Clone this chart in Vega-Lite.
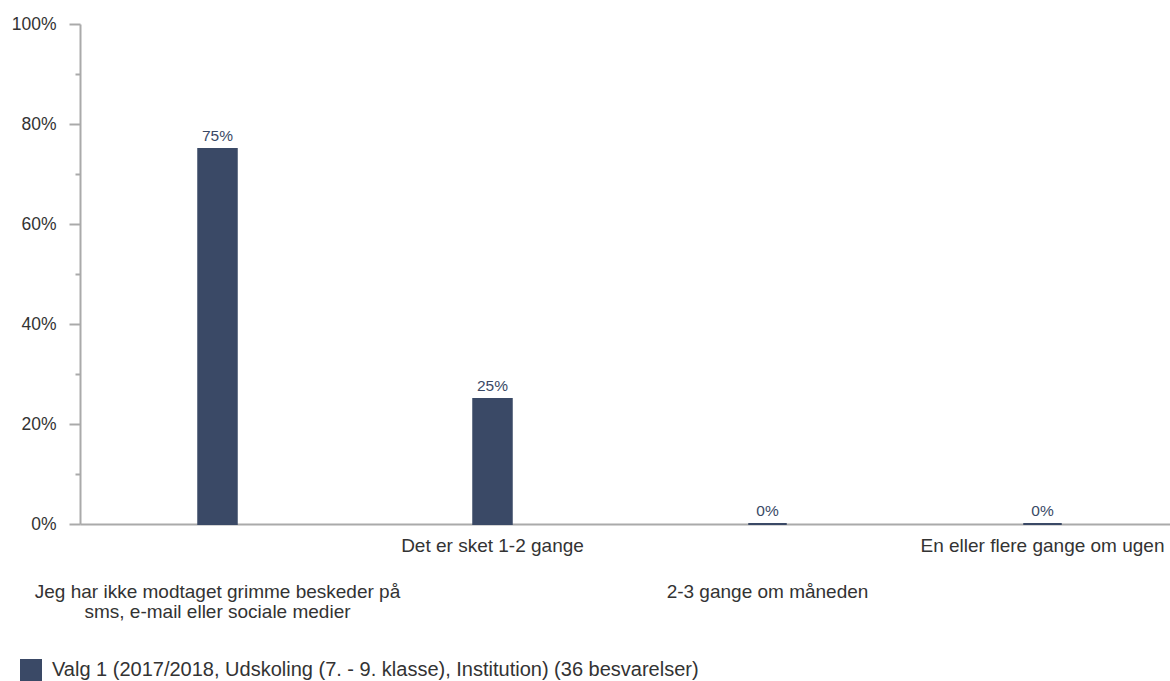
{
  "$schema": "https://vega.github.io/schema/vega-lite/v6.json",
  "autosize": "none",
  "width": 1090,
  "height": 500,
  "padding": {"left": 80, "top": 24, "right": 0, "bottom": 157},
  "background": "white",
  "config": {
    "view": {"stroke": null},
    "font": "Liberation Sans"
  },
  "data": {
    "values": [
      {"cat": "Jeg har ikke modtaget grimme beskeder på sms, e-mail eller sociale medier", "pct": 75, "label": "75%", "series": "Valg 1 (2017/2018, Udskoling (7. - 9. klasse), Institution) (36 besvarelser)"},
      {"cat": "Det er sket 1-2 gange", "pct": 25, "label": "25%", "series": "Valg 1 (2017/2018, Udskoling (7. - 9. klasse), Institution) (36 besvarelser)"},
      {"cat": "2-3 gange om måneden", "pct": 0, "label": "0%", "series": "Valg 1 (2017/2018, Udskoling (7. - 9. klasse), Institution) (36 besvarelser)"},
      {"cat": "En eller flere gange om ugen", "pct": 0, "label": "0%", "series": "Valg 1 (2017/2018, Udskoling (7. - 9. klasse), Institution) (36 besvarelser)"}
    ]
  },
  "encoding": {
    "y": {
      "field": "pct",
      "type": "quantitative",
      "scale": {"domain": [0, 100], "nice": false, "zero": true},
      "axis": {
        "title": null,
        "grid": false,
        "values": [0, 10, 20, 30, 40, 50, 60, 70, 80, 90, 100],
        "labelExpr": "datum.value % 20 === 0 ? datum.value + '%' : ''",
        "domainColor": "#aaaaaa",
        "domainWidth": 2,
        "tickColor": "#aaaaaa",
        "tickWidth": 2,
        "tickSize": {"condition": {"test": "datum.value % 20 === 0", "value": 11}, "value": 5},
        "labelFontSize": 17.5,
        "labelColor": "#333333",
        "labelPadding": 13
      }
    }
  },
  "resolve": {"axis": {"x": "independent"}},
  "layer": [
    {
      "mark": {"type": "bar", "stroke": "#3a4966", "strokeWidth": 2},
      "encoding": {
        "x": {
          "field": "cat",
          "type": "nominal",
          "sort": null,
          "scale": {"range": [0, 1100], "paddingInner": 0.86, "paddingOuter": 0.43},
          "axis": {
            "orient": "bottom",
            "title": null,
            "ticks": false,
            "domainColor": "#aaaaaa",
            "domainWidth": 2,
            "labelAngle": 0,
            "labelFontSize": 19,
            "labelColor": "#333333",
            "labelPadding": 12,
            "labelBaseline": "top",
            "labelOverlap": false,
            "labelBound": false,
            "labelLimit": 0,
            "labelExpr": "(datum.value == 'Det er sket 1-2 gange' || datum.value == 'En eller flere gange om ugen') ? datum.value : ''"
          }
        },
        "color": {
          "field": "series",
          "type": "nominal",
          "scale": {"range": ["#3a4966"]},
          "legend": {
            "title": null,
            "orient": "none",
            "legendX": -60,
            "legendY": 635,
            "symbolType": "square",
            "symbolSize": 484,
            "symbolStrokeWidth": 0,
            "labelFontSize": 20,
            "labelColor": "#333333",
            "labelLimit": 0,
            "labelOffset": 10
          }
        }
      }
    },
    {
      "mark": {"type": "text", "baseline": "alphabetic", "dy": -8, "fontSize": 15.5, "color": "#3a4966"},
      "encoding": {
        "x": {
          "field": "cat",
          "type": "nominal",
          "sort": null,
          "axis": {
            "orient": "bottom",
            "title": null,
            "ticks": false,
            "domain": false,
            "offset": 46,
            "labelAngle": 0,
            "labelFontSize": 19,
            "labelColor": "#333333",
            "labelPadding": 12,
            "labelBaseline": "top",
            "labelLineHeight": 20,
            "labelOverlap": false,
            "labelBound": false,
            "labelLimit": 0,
            "labelExpr": "datum.value == 'Jeg har ikke modtaget grimme beskeder på sms, e-mail eller sociale medier' ? ['Jeg har ikke modtaget grimme beskeder på', 'sms, e-mail eller sociale medier'] : (datum.value == '2-3 gange om måneden' ? datum.value : '')"
          }
        },
        "text": {"field": "label"}
      }
    }
  ]
}
